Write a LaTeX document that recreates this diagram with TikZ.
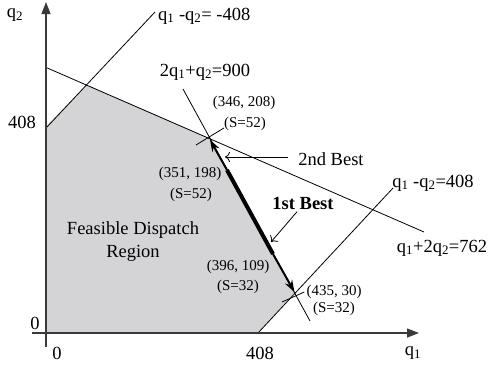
\documentclass[tikz,border=0pt]{standalone}
\usepackage{fontspec}
\setmainfont{Liberation Serif}
\usetikzlibrary{positioning, arrows.meta}
\definecolor{regionGray}{HTML}{D4D4D6}
\definecolor{axisGray}{HTML}{3A3A3A}

\begin{document}
\begin{tikzpicture}[x=1pt, y=-1pt,
  biglbl/.style={font=\fontsize{18.5}{23}\selectfont, inner sep=0pt, align=center},
  ptlbl/.style={font=\fontsize{15}{17}\selectfont, inner sep=0pt},
  cline/.style={line width=0.8pt},
  axisline/.style={line width=1.3pt, draw=axisGray,
                   -{Triangle[length=12pt, width=9pt]}},
  pick/.style={line width=2pt, -{Stealth[length=12pt, width=8pt]}},
  pointer/.style={line width=0.8pt, -{To[length=5pt, width=10pt]}}
]
\useasboundingbox (0,0) rectangle (489,368);

% feasible region
\fill[regionGray] (46,333) -- (46,126) -- (87,85) -- (209,138)
  -- (295,293) -- (258,333) -- cycle;

% constraint lines
\coordinate (la) at (47,127);  \coordinate (lb) at (155,12);
\coordinate (ma) at (45,67);   \coordinate (mb) at (424,232);
\coordinate (na) at (183,89);  \coordinate (nb) at (310,321);
\coordinate (ka) at (258,333); \coordinate (kb) at (393,188);
\draw[cline] (la) -- (lb);
\draw[cline] (ma) -- (mb);
\draw[cline] (na) -- (nb);
\draw[cline] (ka) -- (kb);

% axes
\coordinate (ybot) at (46,347); \coordinate (ytop) at (46,2);
\coordinate (xlft) at (32,333); \coordinate (xrgt) at (419,333);
\draw[axisline] (ybot) -- (ytop);
\draw[axisline] (xlft) -- (xrgt);

% vertices and the best segment
\coordinate (P1) at (209,138);
\coordinate (P2) at (295,293);
\coordinate (A) at (227,170);
\coordinate (B) at (273,254);
\draw[line width=4pt] (A) -- (B);
\draw[pick, shorten >=2pt] (A) -- (P1);
\draw[pick, shorten >=1pt] (B) -- (P2);

% axis labels
\node[biglbl] (q2) at (15,15) {q\textsubscript{2}};
\node[biglbl] (y408) at (22,122) {408};
\node[biglbl] (y0) at (35,323) {0};
\node[biglbl] (x0) at (57,353) {0};
\node[biglbl] (x408) at (260,353) {408};
\node[biglbl] (q1) at (413,353) {q\textsubscript{1}};

% line labels
\node[biglbl, anchor=west] (lneg) at (158,16)
  {q\textsubscript{1} -q\textsubscript{2}= -408};
\node[biglbl] (l900) at (205,72) {2q\textsubscript{1}+q\textsubscript{2}=900};
\node[biglbl] (lpos) at (433,183) {q\textsubscript{1} -q\textsubscript{2}=408};
\node[biglbl] (l762) at (442,248) {q\textsubscript{1}+2q\textsubscript{2}=762};
\node[biglbl] (feas) at (133,242) {Feasible Dispatch\\Region};

% point labels
\node[ptlbl] (c346) at (244,103) {(346, 208)};
\node[ptlbl] (s346) at (245,124) {(S=52)};
\node[ptlbl] (c351) at (190,174) {(351, 198)};
\node[ptlbl] (s351) at (191,195) {(S=52)};
\node[ptlbl] (c396) at (238,267) {(396, 109)};
\node[ptlbl] (s396) at (238,287) {(S=32)};
\node[ptlbl] (c435) at (334,292) {(435, 30)};
\node[ptlbl] (s435) at (334,309) {(S=32)};

\coordinate (t1) at (196,145);
\coordinate (t2) at (282,302);
\draw[cline] ([yshift=-4pt]s346.west) -- (t1);
\draw[cline] ([xshift=-2pt]c435.west) -- (t2);

% best markers
\node[biglbl] (second) at (331,159) {2nd Best};
\node[biglbl, font=\fontsize{18.5}{23}\selectfont\bfseries] (first) at (303,203) {1st Best};
\coordinate (sndtip) at (225,157);
\coordinate (fsttip) at (271,242);
\draw[pointer, shorten <=10pt] ([yshift=2pt]second.west) -- (sndtip);
\draw[pointer, shorten <=3pt] ([xshift=-4pt]first.south) -- (fsttip);
\end{tikzpicture}
\end{document}
